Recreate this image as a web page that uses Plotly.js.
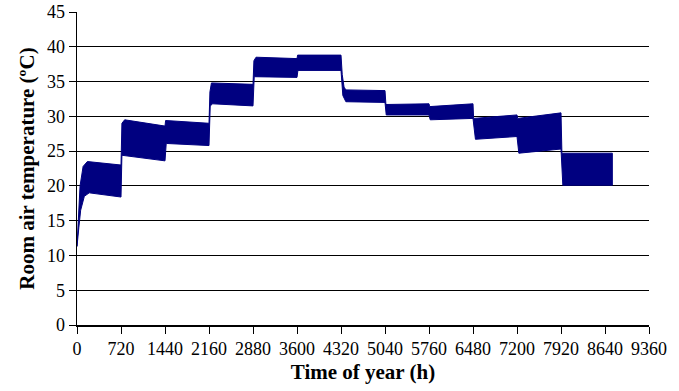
<!DOCTYPE html>
<html>
<head>
<meta charset="utf-8">
<script src="https://cdn.plot.ly/plotly-3.0.1.min.js"></script>
<style>html,body{margin:0;padding:0;background:#fff;}#chart{width:679px;height:391px;}</style>
</head>
<body>
<div id="chart"></div>
<script>
// Upper envelope of the hourly room air temperature
const upperHours = [0, 20, 50, 100, 170, 720, 735, 780, 1440, 1450, 2160, 2175, 2200, 2880, 2895, 2930, 3600, 3610, 4320, 4340, 4370, 4400, 5040, 5055, 5760, 5770, 6480, 6490, 7200, 7210, 7920, 7935, 8760];
const upperTemp  = [11.3, 15, 20, 22.8, 23.5, 23.0, 29.0, 29.5, 28.6, 29.4, 29.0, 33.5, 34.8, 34.6, 38.0, 38.5, 38.3, 38.8, 38.8, 36.0, 34.2, 33.8, 33.7, 31.7, 31.8, 31.4, 31.8, 29.7, 30.2, 29.7, 30.5, 24.7, 24.7];
// Lower envelope
const lowerHours = [0, 30, 60, 120, 200, 720, 735, 1440, 1460, 2160, 2180, 2220, 2880, 2900, 3600, 3615, 4320, 4350, 4400, 5040, 5060, 5760, 5780, 6480, 6520, 7200, 7230, 7920, 7950, 8760];
const lowerTemp  = [11.3, 14.0, 16.5, 18.5, 19.0, 18.4, 24.4, 23.6, 26.1, 25.8, 31.5, 31.8, 31.5, 35.7, 35.6, 36.6, 36.6, 33.0, 32.1, 32.0, 30.2, 30.2, 29.5, 29.7, 26.7, 27.1, 24.7, 25.3, 20.1, 20.1];

const xTicks = [0, 720, 1440, 2160, 2880, 3600, 4320, 5040, 5760, 6480, 7200, 7920, 8640, 9360];
const yTicks = [0, 5, 10, 15, 20, 25, 30, 35, 40, 45];

const navy = '#000080';
const polyX = upperHours.concat(lowerHours.slice().reverse());
const polyY = upperTemp.concat(lowerTemp.slice().reverse());

const traces = [{
  x: polyX, y: polyY, type: 'scatter', mode: 'lines',
  fill: 'toself', fillcolor: navy,
  line: {color: navy, width: 1},
  hoverinfo: 'skip', showlegend: false
}];

const font = 'Liberation Serif, Times New Roman, serif';
const layout = {
  width: 679, height: 391,
  margin: {l: 77, r: 30, t: 12, b: 66},
  paper_bgcolor: '#fff', plot_bgcolor: '#fff',
  showlegend: false,
  font: {family: font, color: '#000', size: 18},
  xaxis: {
    range: [0, 9360], tickvals: xTicks, ticktext: xTicks.map(String),
    showgrid: false, zeroline: false,
    showline: true, linecolor: '#000', linewidth: 1.5,
    ticks: 'outside', ticklen: 7, tickcolor: '#000', tickwidth: 1,
    tickfont: {family: font, size: 18, color: '#000'},
    title: {text: '<b>Time of year (h)</b>', font: {family: font, size: 21, color: '#000'}, standoff: 6}
  },
  yaxis: {
    range: [0, 45], tickvals: yTicks, ticktext: yTicks.map(String),
    showgrid: true, gridcolor: '#000', gridwidth: 1,
    zeroline: false,
    showline: true, linecolor: '#000', linewidth: 1.5,
    ticks: 'outside', ticklen: 7, tickcolor: '#000', tickwidth: 1,
    tickfont: {family: font, size: 18, color: '#000'},
    title: {text: '<b>Room air temperature (ºC)</b>', font: {family: font, size: 21, color: '#000'}, standoff: 6}
  }
};

Plotly.newPlot('chart', traces, layout, {displayModeBar: false, staticPlot: true});
</script>
</body>
</html>
